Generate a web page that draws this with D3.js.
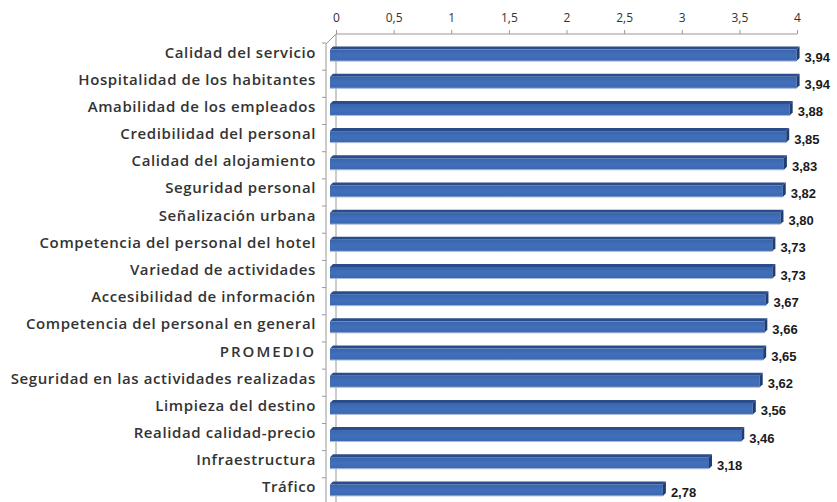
<!DOCTYPE html>
<html>
<head>
<meta charset="utf-8">
<script src="https://cdn.jsdelivr.net/npm/d3@7"></script>
<style>
  body { margin: 0; background: #fff; }
</style>
</head>
<body>
<div id="chart"></div>
<script>
// chart data
var categories = [
  "Calidad del servicio",
  "Hospitalidad de los habitantes",
  "Amabilidad de los empleados",
  "Credibilidad del personal",
  "Calidad del alojamiento",
  "Seguridad personal",
  "Señalización urbana",
  "Competencia del personal del hotel",
  "Variedad de actividades",
  "Accesibilidad de información",
  "Competencia del personal en general",
  "PROMEDIO",
  "Seguridad en las actividades realizadas",
  "Limpieza del destino",
  "Realidad calidad-precio",
  "Infraestructura",
  "Tráfico"
];
var values = [3.94, 3.94, 3.88, 3.85, 3.83, 3.82, 3.80, 3.73, 3.73, 3.67, 3.66, 3.65, 3.62, 3.56, 3.46, 3.18, 2.78];
var tickValues = [0, 0.5, 1, 1.5, 2, 2.5, 3, 3.5, 4];

var svgWidth = 837;
var svgHeight = 502;

var svg = d3.select("#chart")
  .append("svg")
  .attr("width", svgWidth)
  .attr("height", svgHeight);

// back wall scale (axis) and front scale (bars) - pseudo 3d offset
var xScale = d3.scaleLinear().domain([0, 4]).range([336, 797]);
var xBar = d3.scaleLinear().domain([0, 4]).range([342.5, 803.5]);
var barStart = 330;

var yScale = d3.scaleBand()
  .domain(categories)
  .range([43, 505]);

var fmt = function(v) { return String(v).replace(".", ","); };
var fmt2 = function(v) { return v.toFixed(2).replace(".", ","); };

// top axis
var topAxis = d3.axisTop(xScale)
  .tickValues(tickValues)
  .tickSize(4)
  .tickPadding(8)
  .tickFormat(fmt);

var axisG = svg.append("g")
  .attr("transform", "translate(0, 34)")
  .call(topAxis);
axisG.select(".domain").attr("stroke", "#999").attr("d", "M336,0H797");
axisG.selectAll(".tick line").attr("stroke", "#999");
axisG.selectAll(".tick text")
  .attr("fill", "#333")
  .attr("font-family", "'Open Sans', sans-serif")
  .attr("font-size", "12px");

// walls
var wall = svg.append("g").attr("stroke", "#999").attr("fill", "none");
wall.append("line").attr("x1", 336).attr("y1", 34).attr("x2", 336).attr("y2", svgHeight);
wall.append("line").attr("x1", 326).attr("y1", 44).attr("x2", 326).attr("y2", svgHeight);
wall.append("line").attr("x1", 326).attr("y1", 44).attr("x2", 336).attr("y2", 34);
wall.selectAll("line.tk")
  .data(categories.concat(["end"]))
  .enter()
  .append("line")
  .attr("class", "tk")
  .attr("x1", 322)
  .attr("x2", 326)
  .attr("y1", (d, i) => 43 + i * yScale.step())
  .attr("y2", (d, i) => 43 + i * yScale.step());

// gradient for bar front
var defs = svg.append("defs");
var grad = defs.append("linearGradient")
  .attr("id", "barGrad")
  .attr("x1", 0).attr("y1", 0).attr("x2", 0).attr("y2", 1);
grad.append("stop").attr("offset", "0%").attr("stop-color", "#3a65ad");
grad.append("stop").attr("offset", "50%").attr("stop-color", "#416fb9");
grad.append("stop").attr("offset", "100%").attr("stop-color", "#3c68b1");

var rows = svg.selectAll("g.row")
  .data(categories)
  .enter()
  .append("g")
  .attr("class", "row");

var center = d => yScale(d) + yScale.bandwidth() / 2;

// top face
rows.append("path")
  .attr("fill", "#2b4c8c")
  .attr("d", (d, i) => {
    var c = center(d), xe = xBar(values[i]);
    return `M${barStart},${c - 7}L${barStart + 3},${c - 10}L${xe + 3},${c - 10}L${xe},${c - 7}Z`;
  });

// front face
rows.append("rect")
  .attr("x", barStart)
  .attr("y", d => center(d) - 7)
  .attr("width", (d, i) => xBar(values[i]) - barStart)
  .attr("height", 11.5)
  .attr("fill", "url(#barGrad)");

// bottom highlight
rows.append("line")
  .attr("x1", barStart)
  .attr("x2", (d, i) => xBar(values[i]))
  .attr("y1", d => center(d) + 4.5)
  .attr("y2", d => center(d) + 4.5)
  .attr("stroke", "#a9bbdc")
  .attr("stroke-width", 1);

// side face
rows.append("path")
  .attr("fill", "#1f3c73")
  .attr("d", (d, i) => {
    var c = center(d), xe = xBar(values[i]);
    return `M${xe},${c - 7}L${xe + 3},${c - 10}L${xe + 3},${c + 1.5}L${xe},${c + 4.5}Z`;
  });

// value labels
rows.append("text")
  .attr("x", (d, i) => xBar(values[i]) + 8)
  .attr("y", d => center(d) + 5.5)
  .attr("font-family", "'Liberation Sans', Arial, sans-serif")
  .attr("font-weight", "bold")
  .attr("font-size", "13px")
  .attr("fill", "#1a1a1a")
  .text((d, i) => fmt2(values[i]));

// category labels
rows.append("text")
  .attr("x", 316)
  .attr("y", d => center(d) + 1)
  .attr("text-anchor", "end")
  .attr("font-family", "'Open Sans', sans-serif")
  .attr("font-weight", "600")
  .attr("font-size", "15px")
  .attr("letter-spacing", d => d === "PROMEDIO" ? "2px" : "0.6px")
  .attr("fill", "#333")
  .text(d => d);
</script>
</body>
</html>
